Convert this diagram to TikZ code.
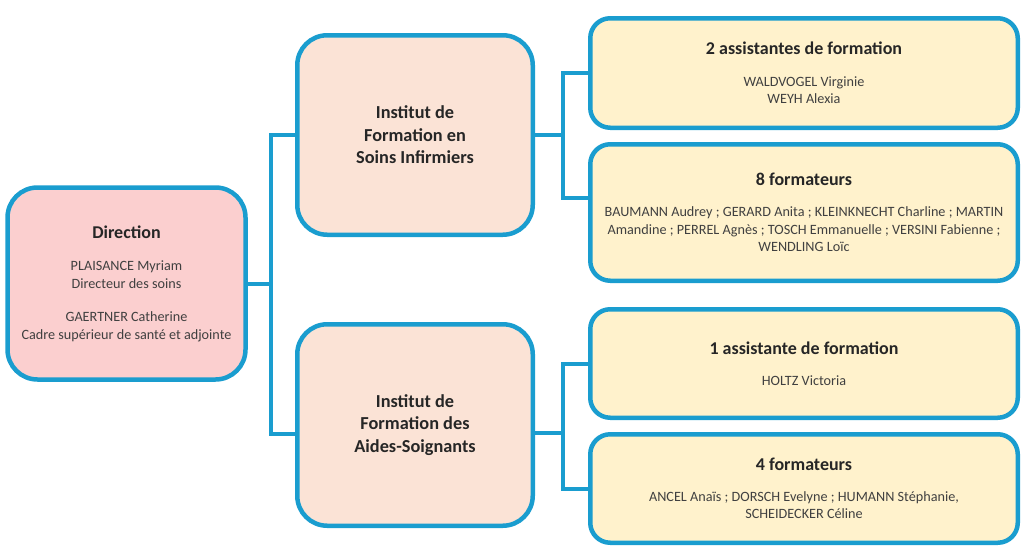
\documentclass[tikz,border=0pt]{standalone}
\usepackage{fontspec}
\setmainfont{Carlito}
\usetikzlibrary{positioning}
\definecolor{cadre}{HTML}{1A9DCF}
\definecolor{rose}{HTML}{FBCFCF}
\definecolor{peche}{HTML}{FBE3D6}
\definecolor{jaune}{HTML}{FFF2CC}
\definecolor{titre}{HTML}{262626}
\definecolor{nom}{HTML}{404040}
\newcommand{\titre}[1]{{\fontsize{18}{21}\selectfont\bfseries\color{titre}#1}}

\begin{document}
\begin{tikzpicture}[x=1pt,y=-1pt,
	box/.style={draw=cadre, line width=4.5pt, align=center, text=nom,
		font=\fontsize{14.2}{17.5}\selectfont, inner sep=0pt},
	dir/.style={box, fill=rose, rounded corners=30pt, minimum width=238pt, minimum height=192pt},
	inst/.style={box, fill=peche, rounded corners=30pt, minimum width=235.5pt,
		font=\fontsize{18.3}{22.5}\selectfont\bfseries, text=titre},
	equipe/.style={box, fill=jaune, rounded corners=20pt, minimum width=427.5pt},
	link/.style={draw=cadre, line width=4pt},
	node distance=12pt]
	\useasboundingbox (0,0) rectangle (1024,552);
	
	\node [dir] (dir) at (126.5,283.5) {\titre{Direction}\\[15pt]
		PLAISANCE Myriam\\ Directeur des soins\\[16pt]
		GAERTNER Catherine\\ Cadre supérieur de santé et adjointe};
	
	\node [inst, minimum height=199.5pt] (ifsi) at (415,135) {Institut de\\ Formation en\\ Soins Infirmiers};
	\node [inst, minimum height=201.5pt, below=85pt of ifsi] (ifas) {Institut de\\ Formation des\\ Aides-Soignants};
	
	\node [equipe, minimum height=109.5pt] (assist1) at (804,73) {\titre{2 assistantes de formation}\\[14pt]
		WALDVOGEL Virginie\\ WEYH Alexia};
	\node [equipe, minimum height=136.5pt, below=of assist1] (form1) {\titre{8 formateurs}\\[14pt]
		BAUMANN Audrey ; GERARD Anita ; KLEINKNECHT Charline ; MARTIN\\
		Amandine ; PERREL Agnès ; TOSCH Emmanuelle ; VERSINI Fabienne ;\\
		WENDLING Loïc};
	
	\node [equipe, minimum height=108.5pt] (assist2) at (804,363.5) {\titre{1 assistante de formation}\\[14pt]
		HOLTZ Victoria};
	\node [equipe, minimum height=108.5pt, below=of assist2] (form2) {\titre{4 formateurs}\\[13pt]
		ANCEL Anaïs ; DORSCH Evelyne ; HUMANN Stéphanie,\\ SCHEIDECKER Céline};
	
	% liaisons
	\draw [link] (dir.east) -- ++(23,0) coordinate (j1);
	\draw [link] (ifsi.west) -| (j1) |- ([yshift=-9pt]ifas.west);
	\draw [link] (ifsi.east) -- ++(28,0) coordinate (j2);
	\draw [link] (assist1.west) -| (j2) |- ([yshift=15pt]form1.west);
	\draw [link] ([yshift=-8pt]ifas.east) -- ++(28,0) coordinate (j3);
	\draw [link] (assist2.west) -| (j3) |- (form2.west);
	
\end{tikzpicture}
\end{document}
